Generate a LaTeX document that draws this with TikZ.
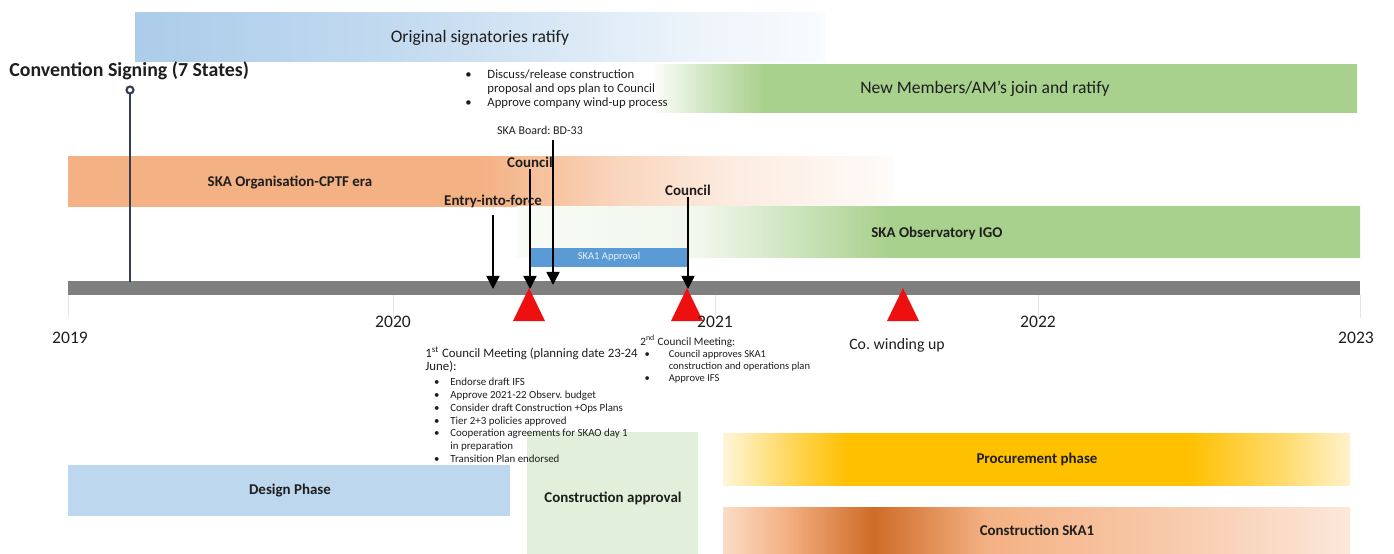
\documentclass[tikz,border=0pt]{standalone}
\usepackage{fontspec}
\setmainfont{Carlito}
\usetikzlibrary{arrows.meta}
\frenchspacing

\definecolor{sigblue}{RGB}{157,195,230}
\definecolor{orgorange}{RGB}{244,177,131}
\definecolor{igogreen}{RGB}{169,209,142}
\definecolor{designblue}{RGB}{189,215,238}
\definecolor{approvgreen}{RGB}{226,239,218}
\definecolor{procyellow}{RGB}{255,192,0}
\definecolor{constorange}{RGB}{197,90,17}
\definecolor{skablue}{RGB}{91,155,213}
\definecolor{bargray}{RGB}{127,127,127}
\definecolor{msred}{RGB}{238,16,16}
\definecolor{pinslate}{RGB}{51,63,80}
\definecolor{inkgray}{RGB}{30,30,30}

% colour runs of the bands (path is mapped onto 25bp..75bp)
\pgfdeclarehorizontalshading{signfade}{100bp}{color(0bp)=(sigblue!85!white); color(25bp)=(sigblue!85!white); color(45bp)=(sigblue!60!white); color(65bp)=(sigblue!20!white); color(75bp)=(sigblue!6!white); color(100bp)=(sigblue!6!white)}
\pgfdeclarehorizontalshading{memberfade}{100bp}{color(0bp)=(white); color(25bp)=(white); color(29bp)=(igogreen!55!white); color(33bp)=(igogreen); color(75bp)=(igogreen); color(100bp)=(igogreen)}
\pgfdeclarehorizontalshading{cptffade}{100bp}{color(0bp)=(orgorange); color(25bp)=(orgorange); color(50bp)=(orgorange); color(58bp)=(orgorange!55!white); color(65bp)=(orgorange!25!white); color(75bp)=(orgorange!5!white); color(100bp)=(orgorange!5!white)}
\pgfdeclarehorizontalshading{igofade}{100bp}{color(0bp)=(igogreen!8!white); color(25bp)=(igogreen!8!white); color(36bp)=(igogreen!18!white); color(47bp)=(igogreen); color(75bp)=(igogreen); color(100bp)=(igogreen)}
\pgfdeclarehorizontalshading{procfade}{100bp}{color(0bp)=(procyellow!15!white); color(25bp)=(procyellow!15!white); color(31bp)=(procyellow!70!white); color(35bp)=(procyellow); color(62bp)=(procyellow); color(70bp)=(procyellow!55!white); color(75bp)=(procyellow!20!white); color(100bp)=(procyellow!20!white)}
\pgfdeclarehorizontalshading{constfade}{100bp}{color(0bp)=(orgorange!45!white); color(25bp)=(orgorange!45!white); color(30bp)=(orgorange); color(37bp)=(constorange!80!orgorange); color(46bp)=(orgorange); color(62bp)=(orgorange!65!white); color(75bp)=(orgorange!30!white); color(100bp)=(orgorange!30!white)}

\newcommand{\bul}[1][1.6em]{\makebox[#1][l]{\textbullet}}
\newcommand{\headfont}{\fontsize{7.3}{8}\selectfont}

\begin{document}
\begin{tikzpicture}[x=0.02cm,y=-0.02cm, text=inkgray,
  bandtext/.style={font=\fontsize{8.5}{10}\selectfont\bfseries},
  evlabel/.style={font=\fontsize{8.5}{10}\selectfont\bfseries, inner sep=1pt},
  yearlabel/.style={font=\fontsize{10}{12}\selectfont},
  evarrow/.style={-{Triangle[width=7.5pt,length=7.5pt]}, line width=0.9pt},
  note/.style={align=left, anchor=north west, inner sep=0pt}]
\useasboundingbox (0,0) rectangle (1394,554);

% bands
\shade[shading=signfade] (135,13) rectangle (825,62);
\shade[shading=memberfade] (650,65) rectangle (1357,113);
\shade[shading=cptffade] (68,157) rectangle (893,207);
\shade[shading=igofade] (517,207) rectangle (1360,257);
\fill[skablue] (530,248) rectangle (688,267);
\fill[designblue] (68,465) rectangle (510,516);
\fill[approvgreen] (527,432) rectangle (698,554);
\shade[shading=procfade] (723,433) rectangle (1350,485);
\shade[shading=constfade] (723,507) rectangle (1350,554);

% timeline
\foreach \x in {68,393,715,1038,1360}
  \draw[black!10] (\x,295) -- (\x,318);
\fill[bargray] (68,281) rectangle (1360,295);
\coordinate (tltop) at (0,289);
\foreach \x in {529,687,903}
  \fill[msred] (\x-16,321) -- (\x,288) -- (\x+16,321) -- cycle;

% convention signing
\node[font=\fontsize{11.3}{13}\selectfont\bfseries, anchor=west, inner sep=0pt] (convsign) at (9,71) {Convention Signing (7 States)};
\coordinate (pin) at (130,90);
\draw[pinslate, line width=1.2pt] (pin) ++(0,4) -- (pin |- 0,282);
\draw[pinslate, line width=1.2pt, fill=white] (pin) circle (3.5);

% band labels
\node[font=\fontsize{10}{12}\selectfont] (ratify) at (480,38) {Original signatories ratify};
\node[font=\fontsize{10}{12}\selectfont] (newmem) at (985,89) {New Members/AM's join and ratify};
\node[bandtext] (cptf) at (290,183) {SKA Organisation-CPTF era};
\node[bandtext] (igo) at (937,233) {SKA Observatory IGO};
\node[font=\fontsize{6}{7}\selectfont, text=white!85!skablue] (ska1app) at (609,257) {SKA1 Approval};
\node[bandtext] (design) at (290,491) {Design Phase};
\node[bandtext] (constapp) at (613,498) {Construction approval};
\node[bandtext] (proc) at (1037,459) {Procurement phase};
\node[bandtext] (constska) at (1037,530) {Construction SKA1};

% events
\node[note, font=\fontsize{7.2}{8}\selectfont] (bdnote) at (465,69)
  {\bul[1.75em]Discuss/release construction\\
   \hspace*{1.75em}proposal and ops plan to Council\\
   \bul[1.75em]Approve company wind-up process};
\node[font=\fontsize{6.8}{8}\selectfont] (bd33) at (540,130) {SKA Board: BD-33};
\node[evlabel] (council1) at (530,162) {Council};
\node[evlabel] (eif) at (493,201) {Entry-into-force};
\node[evlabel] (council2) at (688,190) {Council};
\coordinate (bdfoot) at (553,140);

\draw[evarrow] (bdfoot) -- (553,285);
\draw[evarrow] (council1.south) -- (council1.south |- tltop);
\draw[evarrow] ([yshift=-3pt]eif.south) -- (eif.south |- tltop);
\draw[evarrow] (council2.south) -- (council2.south |- tltop);

% years
\node[yearlabel] (y2019) at (70,338) {2019};
\node[yearlabel] (y2020) at (393,322) {2020};
\node[yearlabel] (y2021) at (715,322) {2021};
\node[yearlabel] (y2022) at (1038,322) {2022};
\node[yearlabel] (y2023) at (1356,338) {2023};
\node[font=\fontsize{9}{11}\selectfont] (cowind) at (897,345) {Co. winding up};

% council meeting notes
\node[note, font=\fontsize{6.2}{7.3}\selectfont] (meet1) at (425,346)
  {\headfont 1\textsuperscript{st} Council Meeting (planning date 23-24\\
   \headfont June):\\[1.5pt]
   \hspace*{0.8em}\bul[1.5em]Endorse draft IFS\\
   \hspace*{0.8em}\bul[1.5em]Approve 2021-22 Observ. budget\\
   \hspace*{0.8em}\bul[1.5em]Consider draft Construction +Ops Plans\\
   \hspace*{0.8em}\bul[1.5em]Tier 2+3 policies approved\\
   \hspace*{0.8em}\bul[1.5em]Cooperation agreements for SKAO day 1\\
   \hspace*{2.3em}in preparation\\
   \hspace*{0.8em}\bul[1.5em]Transition Plan endorsed};
\node[note, font=\fontsize{6}{6.9}\selectfont] (meet2) at (640,335)
  {\fontsize{6.4}{7}\selectfont 2\textsuperscript{nd} Council Meeting:\\
   \hspace*{0.4em}\bul[2.3em]Council approves SKA1\\
   \hspace*{2.7em}construction and operations plan\\
   \hspace*{0.4em}\bul[2.3em]Approve IFS};
\end{tikzpicture}
\end{document}
